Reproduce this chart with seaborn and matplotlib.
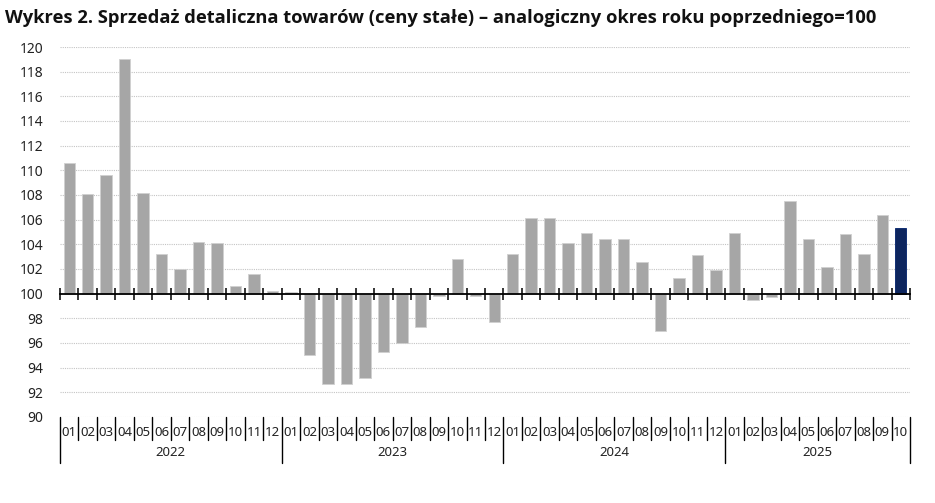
import matplotlib
matplotlib.use("Agg")
import matplotlib.pyplot as plt
import seaborn as sns
import numpy as np
import pandas as pd

years = ["2022", "2023", "2024", "2025"]
months_2022 = ["01", "02", "03", "04", "05", "06", "07", "08", "09", "10", "11", "12"]
months_2023 = ["01", "02", "03", "04", "05", "06", "07", "08", "09", "10", "11", "12"]
months_2024 = ["01", "02", "03", "04", "05", "06", "07", "08", "09", "10", "11", "12"]
months_2025 = ["01", "02", "03", "04", "05", "06", "07", "08", "09", "10"]

values_2022 = [110.6, 108.1, 109.6, 119.0, 108.2, 103.2, 102.0, 104.2, 104.1, 100.6, 101.6, 100.2]
values_2023 = [100.1, 95.0, 92.7, 92.7, 93.2, 95.3, 96.0, 97.3, 99.8, 102.8, 99.8, 97.7]
values_2024 = [103.2, 106.1, 106.1, 104.1, 104.9, 104.4, 104.4, 102.6, 97.0, 101.3, 103.1, 101.9]
values_2025 = [104.9, 99.5, 99.7, 107.5, 104.4, 102.2, 104.8, 103.2, 106.4, 105.3]

y_ticks = [90, 92, 94, 96, 98, 100, 102, 104, 106, 108, 110, 112, 114, 116, 118, 120]

title = "Wykres 2. Sprzedaż detaliczna towarów (ceny stałe) – analogiczny okres roku poprzedniego=100"

GRAY = "#A6A6A6"
NAVY = "#00206B"
BASE = 100

month_lists = [months_2022, months_2023, months_2024, months_2025]
value_lists = [values_2022, values_2023, values_2024, values_2025]

rows = []
for y, ms, vs in zip(years, month_lists, value_lists):
    for m, v in zip(ms, vs):
        rows.append({"year": y, "month": m, "value": v})
df = pd.DataFrame(rows)
df["key"] = df["year"] + "-" + df["month"]
df["dev"] = df["value"] - BASE
df["kind"] = "past"
df.loc[df.index[-1], "kind"] = "latest"

sns.set_theme(style="white")
plt.rcParams["font.family"] = ["Noto Sans", "DejaVu Sans"]

fig = plt.figure(figsize=(9.35, 5.03), dpi=100)
ax = fig.add_axes([60 / 935, 1 - 417 / 503, 850 / 935, 370 / 503])

sns.barplot(data=df, x="key", y="dev", hue="kind", palette={"past": GRAY, "latest": NAVY},
            order=list(df["key"]), dodge=False, legend=False, width=0.62,
            edgecolor="#D0D0D0", linewidth=0.6, ax=ax, zorder=3)
for patch in ax.patches:
    fc = patch.get_facecolor()
    if fc[2] > fc[0] + 0.1:
        patch.set_edgecolor(NAVY)

n = len(df)
ax.set_xlim(-0.5, n - 0.5)
ax.set_ylim(y_ticks[0] - BASE, y_ticks[-1] - BASE)
ax.set_yticks([t - BASE for t in y_ticks])
ax.set_yticklabels([str(t) for t in y_ticks], fontsize=10, color="#222222")
ax.tick_params(axis="y", length=0, pad=12)

for t in y_ticks:
    if t != BASE:
        ax.axhline(t - BASE, color="#C4C4C4", linewidth=0.8, linestyle=(0, (1, 1)), zorder=1)

for s in ["left", "right", "top"]:
    ax.spines[s].set_visible(False)
ax.spines["bottom"].set_position(("data", 0))
ax.spines["bottom"].set_color("black")
ax.spines["bottom"].set_linewidth(1.3)
ax.spines["bottom"].set_zorder(5)
ax.set_xticks(np.arange(n + 1) - 0.5)
ax.set_xticklabels([])
ax.tick_params(axis="x", direction="inout", length=8, width=1.1, color="black", bottom=True)
ax.set_xlabel("")
ax.set_ylabel("")

xtr = ax.get_xaxis_transform()
px = 1 / 370
year_starts = [0]
for ms in month_lists:
    year_starts.append(year_starts[-1] + len(ms))
for i in range(n + 1):
    is_year = i in year_starts
    lo = -46 * px if is_year else -23 * px
    ax.plot([i - 0.5, i - 0.5], [0, lo], transform=xtr, color="black",
            linewidth=1.0, clip_on=False)
for i, m in enumerate(df["month"]):
    ax.text(i, -15 * px, m, transform=xtr, ha="center", va="center", fontsize=9.5, color="#222222")
for k, y in enumerate(years):
    mid = (year_starts[k] + year_starts[k + 1] - 1) / 2
    ax.text(mid, -35 * px, y, transform=xtr, ha="center", va="center", fontsize=9.5, color="#222222")

fig.text(5 / 935, 1 - 18 / 503, title, ha="left", va="center", fontsize=13.2,
         fontweight="bold", family=["Open Sans", "DejaVu Sans"], color="#111111")

fig.savefig("out.png", dpi=100)
